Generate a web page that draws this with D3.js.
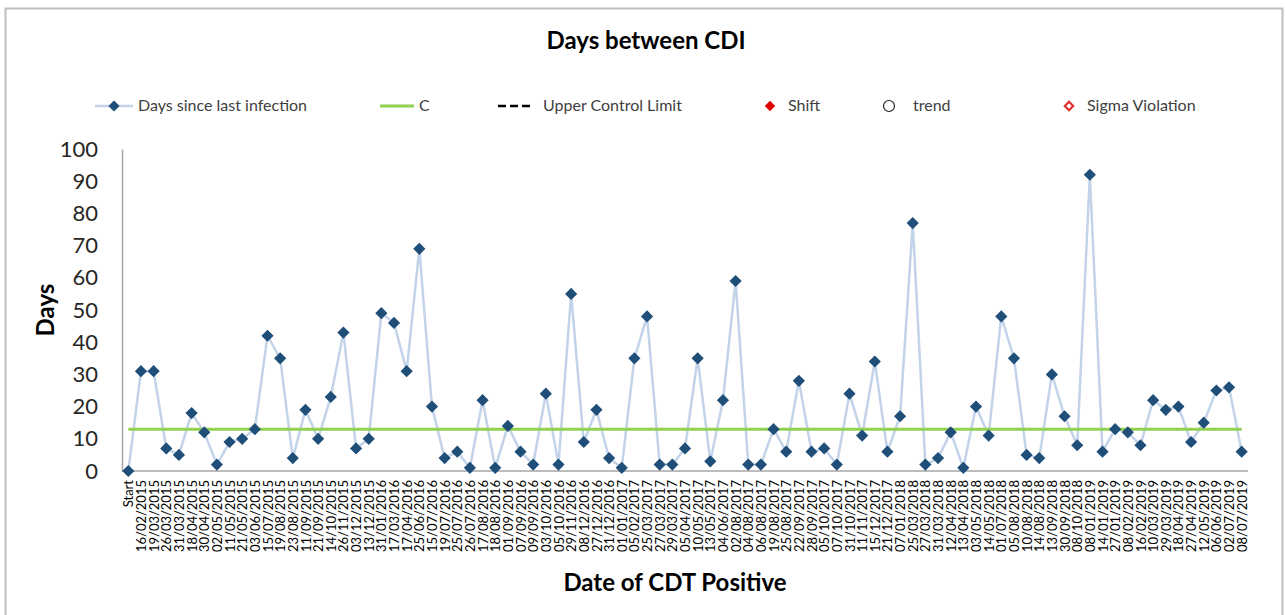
<!DOCTYPE html>
<html>
<head>
<meta charset="utf-8">
<script src="https://cdn.jsdelivr.net/npm/d3@7"></script>
<style>
  body { margin: 0; background: #fff; }
  svg text { font-family: Lato, "Open Sans", sans-serif; }
</style>
</head>
<body>
<div id="app"></div>
<script>
// Categories (date of each positive)
const dates = [
  "Start",
  "16/02/2015", "19/03/2015", "26/03/2015", "31/03/2015", "18/04/2015", "30/04/2015",
  "02/05/2015", "11/05/2015", "21/05/2015", "03/06/2015", "15/07/2015", "19/08/2015",
  "23/08/2015", "11/09/2015", "21/09/2015", "14/10/2015", "26/11/2015", "03/12/2015",
  "13/12/2015", "31/01/2016", "17/03/2016", "17/04/2016", "25/06/2016", "15/07/2016",
  "19/07/2016", "25/07/2016", "26/07/2016", "17/08/2016", "18/08/2016", "01/09/2016",
  "07/09/2016", "09/09/2016", "03/10/2016", "05/10/2016", "29/11/2016", "08/12/2016",
  "27/12/2016", "31/12/2016", "01/01/2017", "05/02/2017", "25/03/2017", "27/03/2017",
  "29/03/2017", "05/04/2017", "10/05/2017", "13/05/2017", "04/06/2017", "02/08/2017",
  "04/08/2017", "06/08/2017", "19/08/2017", "25/08/2017", "22/09/2017", "28/09/2017",
  "05/10/2017", "07/10/2017", "31/10/2017", "11/11/2017", "15/12/2017", "21/12/2017",
  "07/01/2018", "25/03/2018", "27/03/2018", "31/03/2018", "12/04/2018", "13/04/2018",
  "03/05/2018", "14/05/2018", "01/07/2018", "05/08/2018", "10/08/2018", "14/08/2018",
  "13/09/2018", "30/09/2018", "08/10/2018", "08/01/2019", "14/01/2019", "27/01/2019",
  "08/02/2019", "16/02/2019", "10/03/2019", "29/03/2019", "18/04/2019", "27/04/2019",
  "12/05/2019", "06/06/2019", "02/07/2019", "08/07/2019"
];

// Days since last infection
const days = [
  0,
  31, 31, 7, 5, 18, 12,
  2, 9, 10, 13, 42, 35,
  4, 19, 10, 23, 43, 7,
  10, 49, 46, 31, 69, 20,
  4, 6, 1, 22, 1, 14,
  6, 2, 24, 2, 55, 9,
  19, 4, 1, 35, 48, 2,
  2, 7, 35, 3, 22, 59,
  2, 2, 13, 6, 28, 6,
  7, 2, 24, 11, 34, 6,
  17, 77, 2, 4, 12, 1,
  20, 11, 48, 35, 5, 4,
  30, 17, 8, 92, 6, 13,
  12, 8, 22, 19, 20, 9,
  15, 25, 26, 6
];

// Centre line (C)
const centreLine = 13;

const yTicks = [0, 10, 20, 30, 40, 50, 60, 70, 80, 90, 100];

const width = 1285;
const height = 615;

const svg = d3.select("#app")
  .append("svg")
  .attr("width", width)
  .attr("height", height);

// Chart border
svg.append("rect")
  .attr("x", 5.5).attr("y", 8.5)
  .attr("width", 1277).attr("height", 620)
  .attr("fill", "#fff")
  .attr("stroke", "#bfbfbf")
  .attr("stroke-width", 2);

// Scales
const xScale = d3.scalePoint()
  .domain(dates)
  .range([122, 1248])
  .padding(0.5);

const yScale = d3.scaleLinear()
  .domain([0, 100])
  .range([471, 149]);

// Title
svg.append("text")
  .text("Days between CDI")
  .attr("x", 646).attr("y", 49)
  .attr("text-anchor", "middle")
  .attr("font-size", 24)
  .attr("font-weight", "bold")
  .attr("fill", "#000");

// Legend
const legend = svg.append("g").attr("font-size", 16).attr("fill", "#404040");
const ly = 106;

legend.append("line")
  .attr("x1", 95).attr("x2", 133).attr("y1", ly).attr("y2", ly)
  .attr("stroke", "#c3d3e9").attr("stroke-width", 2.5);
legend.append("path")
  .attr("d", d3.symbol(d3.symbolDiamond2, 80)())
  .attr("transform", `translate(114,${ly})`)
  .attr("fill", "#1f4e79");
legend.append("text").text("Days since last infection")
  .attr("x", 138).attr("y", ly + 5);

legend.append("line")
  .attr("x1", 380).attr("x2", 414).attr("y1", ly).attr("y2", ly)
  .attr("stroke", "#92d050").attr("stroke-width", 3);
legend.append("text").text("C").attr("x", 419).attr("y", ly + 5);

legend.append("line")
  .attr("x1", 498).attr("x2", 532).attr("y1", ly).attr("y2", ly)
  .attr("stroke", "#000").attr("stroke-width", 2.5)
  .attr("stroke-dasharray", "8,4");
legend.append("text").text("Upper Control Limit").attr("x", 543).attr("y", ly + 5);

legend.append("path")
  .attr("d", d3.symbol(d3.symbolDiamond2, 70)())
  .attr("transform", `translate(770,${ly})`)
  .attr("fill", "#e00000");
legend.append("text").text("Shift").attr("x", 788).attr("y", ly + 5);

legend.append("circle")
  .attr("cx", 889).attr("cy", ly).attr("r", 5.5)
  .attr("fill", "none").attr("stroke", "#222").attr("stroke-width", 1.2);
legend.append("text").text("trend").attr("x", 913).attr("y", ly + 5);

legend.append("path")
  .attr("d", d3.symbol(d3.symbolDiamond2, 45)())
  .attr("transform", `translate(1069,${ly})`)
  .attr("fill", "#fff").attr("stroke", "#e03030").attr("stroke-width", 2.2);
legend.append("text").text("Sigma Violation").attr("x", 1087).attr("y", ly + 5);

// Axes
const yAxis = d3.axisLeft(yScale).tickValues(yTicks).tickSize(0).tickPadding(24);
const gy = svg.append("g")
  .attr("transform", "translate(122,0)")
  .call(yAxis);
gy.select(".domain").attr("stroke", "#a6a6a6").attr("stroke-width", 1.5);
gy.selectAll("text")
  .attr("font-family", "Lato, sans-serif")
  .attr("font-size", 22)
  .attr("fill", "#262626");

const xAxis = d3.axisBottom(xScale).tickSize(0).tickPadding(0);
const gx = svg.append("g")
  .attr("transform", "translate(0,471)")
  .call(xAxis);
gx.select(".domain").attr("stroke", "#a6a6a6").attr("stroke-width", 1.5)
  .attr("d", "M122,0H1248");
gx.selectAll("text")
  .attr("font-family", "DejaVu Sans, sans-serif")
  .attr("font-size", 13)
  .attr("fill", "#000")
  .attr("text-anchor", "end")
  .attr("dy", "0.35em")
  .attr("transform", "translate(0,9) rotate(-90)");

// Axis titles
svg.append("text")
  .text("Days")
  .attr("text-anchor", "middle")
  .attr("transform", "translate(54,310) rotate(-90)")
  .attr("font-size", 24)
  .attr("font-weight", "bold")
  .attr("fill", "#000");

svg.append("text")
  .text("Date of CDT Positive")
  .attr("x", 675).attr("y", 591)
  .attr("text-anchor", "middle")
  .attr("font-size", 24)
  .attr("font-weight", "bold")
  .attr("fill", "#000");

// Series line
const line = d3.line()
  .x((d, i) => xScale(dates[i]))
  .y(d => yScale(d));

svg.append("path")
  .datum(days)
  .attr("d", line)
  .attr("fill", "none")
  .attr("stroke", "#c3d3e9")
  .attr("stroke-width", 2.5)
  .attr("stroke-linejoin", "round");

// Centre line
svg.append("line")
  .attr("x1", xScale(dates[0]))
  .attr("x2", xScale(dates[dates.length - 1]))
  .attr("y1", yScale(centreLine))
  .attr("y2", yScale(centreLine))
  .attr("stroke", "#92d050")
  .attr("stroke-width", 3);

// Markers
svg.selectAll(".pt")
  .data(days)
  .enter()
  .append("path")
  .attr("class", "pt")
  .attr("d", d3.symbol(d3.symbolDiamond2, 95)())
  .attr("transform", (d, i) => `translate(${xScale(dates[i])},${yScale(d)})`)
  .attr("fill", "#1f4e79");
</script>
</body>
</html>
